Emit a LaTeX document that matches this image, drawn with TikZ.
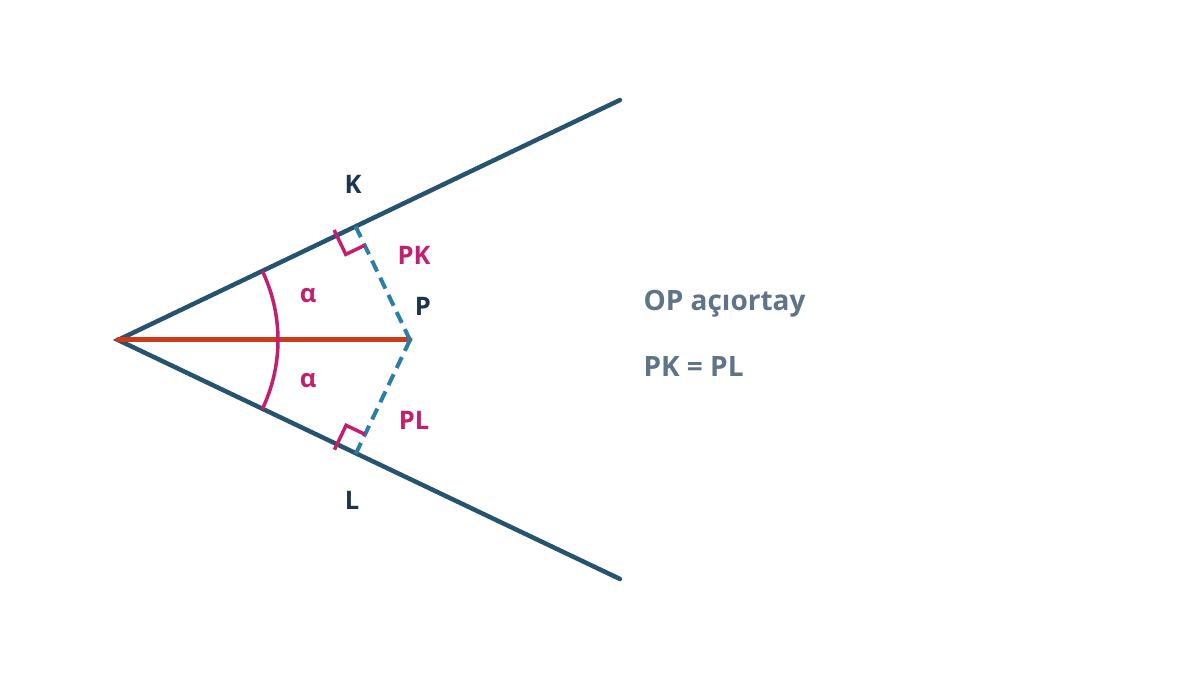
\documentclass[tikz,border=0pt]{standalone}
\usepackage{fontspec}
\setmainfont{Open Sans}
\usetikzlibrary{calc}
\definecolor{raycol}{HTML}{27536F}
\definecolor{biscol}{HTML}{CC3A1A}
\definecolor{dashcol}{HTML}{2A7FA6}
\definecolor{magcol}{HTML}{C41F6E}
\definecolor{labcol}{HTML}{1B3550}
\definecolor{txtcol}{HTML}{5F7486}
\begin{document}
\begin{tikzpicture}[x=1pt,y=1pt,
  raystyle/.style={draw=raycol,line width=4.5pt,line cap=round},
  bisstyle/.style={draw=biscol,line width=5pt,line cap=round},
  dashseg/.style={draw=dashcol,line width=4pt,dash pattern=on 12pt off 7pt},
  rightang/.style={draw=magcol,line width=3.5pt},
  arcstyle/.style={draw=magcol,line width=3.5pt},
  ptlab/.style={text=labcol,font=\fontsize{25.5}{25.5}\selectfont\bfseries},
  seglab/.style={text=magcol,font=\fontsize{25.5}{25.5}\selectfont\bfseries},
  note/.style={text=txtcol,font=\fontsize{28}{28}\selectfont\bfseries,anchor=west}]
\fill[white] (0,0) rectangle (1200,675);
\useasboundingbox (0,0) rectangle (1200,675);
\coordinate (O) at (118,335);
\coordinate (A) at (620,575);
\coordinate (B) at (620,96);
\coordinate (P) at (410,335);
\coordinate (K) at ($(O)!(P)!(A)$);
\coordinate (L) at ($(O)!(P)!(B)$);
% rays
\draw[raystyle] (A) -- (O) -- (B);
% bisector
\draw[bisstyle] (O) -- (P);
% perpendiculars
\draw[dashseg,shorten >=-7pt] (P) -- (K);
\draw[dashseg,shorten >=-7pt] (P) -- (L);
% right angle marks
\draw[rightang] ($(K)!21pt!(O) - (K)!6pt!(P) + (K)$) -- ($(K)!21pt!(O) + (K)!21pt!(P) - (K)$) -- ($(K)!21pt!(P)$);
\draw[rightang] ($(L)!21pt!(O) - (L)!6pt!(P) + (L)$) -- ($(L)!21pt!(O) + (L)!21pt!(P) - (L)$) -- ($(L)!21pt!(P)$);
% angle arc
\draw[arcstyle] ($(O)+(-25.5:160)$) arc[start angle=-25.5,end angle=25.5,radius=160];
% labels
\node[ptlab] (lK) at (353,491) {K};
\node[ptlab] (lP) at (423,369) {P};
\node[ptlab] (lL) at (352,175) {L};
\node[seglab] (lPK) at (414,420) {PK};
\node[seglab] (lPL) at (414,255) {PL};
\node[seglab] (a1) at (308,379) {α};
\node[seglab] (a2) at (308,294) {α};
\node[note] (n1) at (640,371) {OP açıortay};
\node[note] (n2) at (640,308) {PK = PL};
\end{tikzpicture}
\end{document}
